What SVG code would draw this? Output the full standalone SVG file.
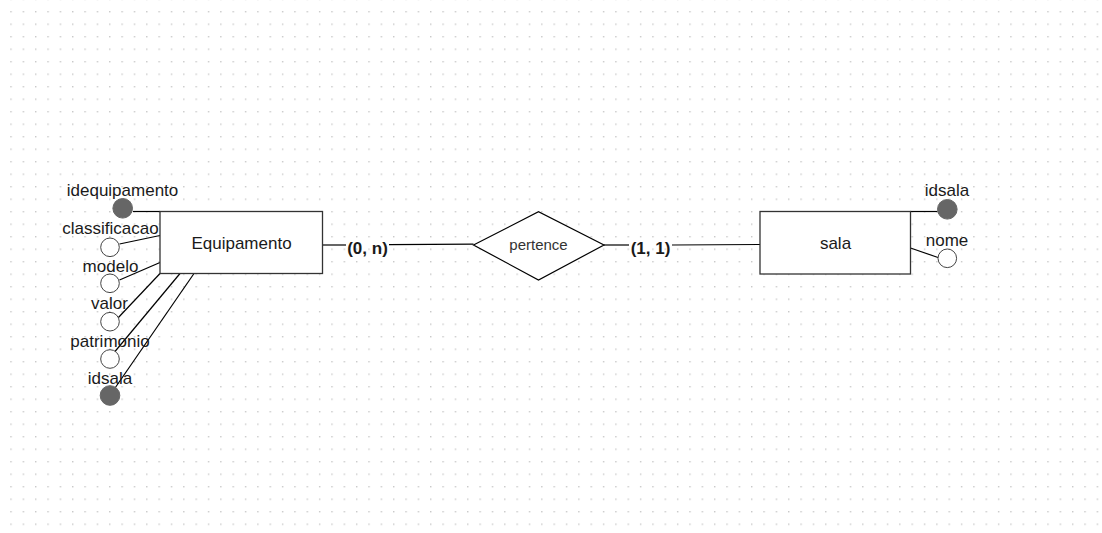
<svg xmlns="http://www.w3.org/2000/svg" width="1102" height="533" viewBox="0 0 1102 533">
  <defs>
    <!-- dotted canvas grid -->
    <pattern id="grid" x="10.3" y="11" width="12.345" height="12.5" patternUnits="userSpaceOnUse">
      <rect x="0" y="0" width="1.4" height="1.4" fill="#c8c8c8"/>
    </pattern>
    <style>
      .entity { fill: #ffffff; stroke: #333333; stroke-width: 1.3; }
      .rel { fill: #ffffff; stroke: #000000; stroke-width: 1.2; }
      .link { stroke: #000000; stroke-width: 1.2; fill: none; }
      .key { fill: #666666; stroke: #666666; stroke-width: 1; }
      .attr { fill: #ffffff; stroke: #444444; stroke-width: 1; }
      .t { font-family: "Liberation Sans", Arial, sans-serif; font-size: 17px; fill: #1a1a1a; text-anchor: middle; }
      .card { font-family: "Liberation Sans", Arial, sans-serif; font-size: 17px; font-weight: bold; fill: #1a1a1a; text-anchor: middle; }
      .small { font-family: "Liberation Sans", Arial, sans-serif; font-size: 15px; fill: #333333; text-anchor: middle; }
    </style>
  </defs>

  <rect width="1102" height="533" fill="#ffffff"/>
  <rect width="1102" height="533" fill="url(#grid)"/>

  <!-- connectors -->
  <g id="connectors">
    <line class="link" x1="133" y1="211.5" x2="160" y2="211.5"/>
    <line class="link" x1="119.5" y1="244" x2="160" y2="235.5"/>
    <line class="link" x1="119.5" y1="280" x2="160" y2="262.5"/>
    <line class="link" x1="117" y1="319" x2="160" y2="273.5"/>
    <line class="link" x1="115" y1="351.5" x2="180" y2="273.5"/>
    <line class="link" x1="114" y1="389.5" x2="194" y2="273.5"/>
    <line class="link" x1="322.5" y1="245" x2="346" y2="245"/>
    <line class="link" x1="389" y1="244.6" x2="473.5" y2="244.2"/>
    <line class="link" x1="604" y1="245" x2="629" y2="245"/>
    <line class="link" x1="672" y1="245" x2="760" y2="244.5"/>
    <line class="link" x1="910.5" y1="211.5" x2="937.5" y2="211.5"/>
    <line class="link" x1="910.5" y1="248" x2="938" y2="257.5"/>
    <text class="card" x="367.5" y="253.5">(0, n)</text>
    <text class="card" x="650.5" y="253.5">(1, 1)</text>
  </g>

  <!-- entity Equipamento with its attributes -->
  <g id="equipamento">
    <rect class="entity" x="160" y="211.5" width="162.5" height="62"/>
    <text class="t" x="241.5" y="248.5">Equipamento</text>
  </g>
  <g id="attr-idequipamento">
    <circle class="key" cx="122.7" cy="208.3" r="9.8"/>
    <text class="t" x="122.5" y="196">idequipamento</text>
  </g>
  <g id="attr-classificacao">
    <circle class="attr" cx="110" cy="247.3" r="9.3"/>
    <text class="t" x="110.5" y="234">classificacao</text>
  </g>
  <g id="attr-modelo">
    <circle class="attr" cx="110" cy="283.3" r="9.3"/>
    <text class="t" x="110.5" y="272">modelo</text>
  </g>
  <g id="attr-valor">
    <circle class="attr" cx="110" cy="321.7" r="9.3"/>
    <text class="t" x="109.5" y="309">valor</text>
  </g>
  <g id="attr-patrimonio">
    <circle class="attr" cx="110" cy="359" r="9.3"/>
    <text class="t" x="110" y="347">patrimonio</text>
  </g>
  <g id="attr-idsala-fk">
    <circle class="key" cx="110" cy="395.5" r="9.8"/>
    <text class="t" x="110" y="384">idsala</text>
  </g>

  <!-- relationship -->
  <g id="pertence">
    <polygon class="rel" points="473.5,245 538.5,211.7 604,245 538.5,280"/>
    <text class="small" x="538.5" y="250">pertence</text>
  </g>

  <!-- entity sala with its attributes -->
  <g id="sala">
    <rect class="entity" x="760" y="211.5" width="150.5" height="62.5"/>
    <text class="t" x="835.5" y="248.5">sala</text>
  </g>
  <g id="attr-idsala">
    <circle class="key" cx="947.3" cy="209.3" r="9.8"/>
    <text class="t" x="947" y="196">idsala</text>
  </g>
  <g id="attr-nome">
    <circle class="attr" cx="947.3" cy="258.3" r="9.3"/>
    <text class="t" x="947" y="246">nome</text>
  </g>
</svg>
